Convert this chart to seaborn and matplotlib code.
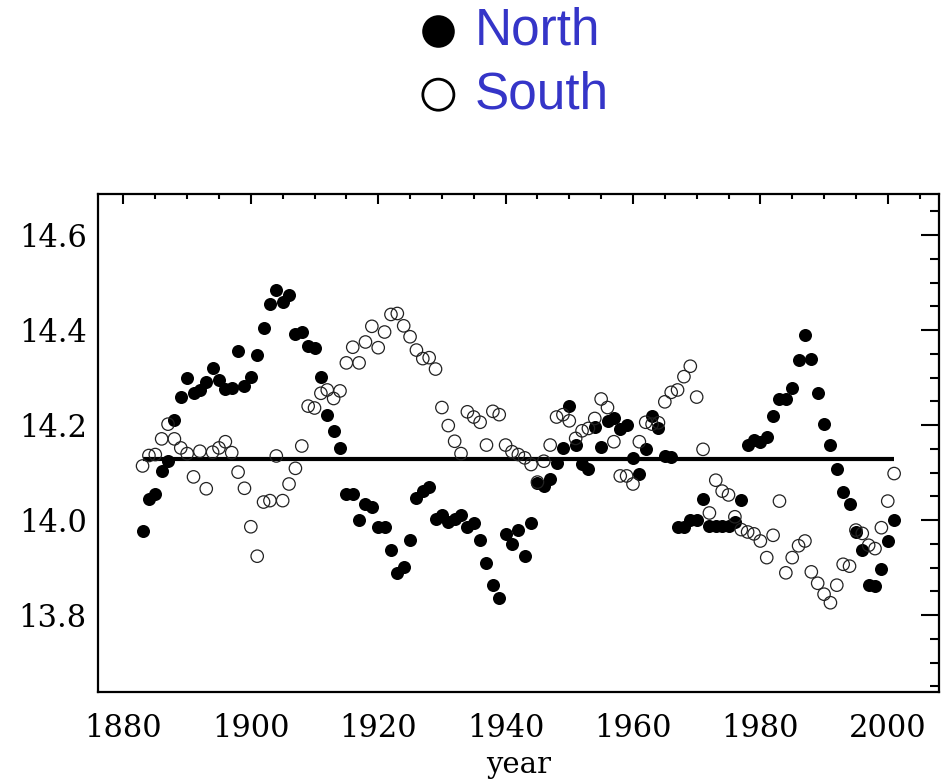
import numpy as np
import pandas as pd
import matplotlib
matplotlib.use("Agg")
import matplotlib.pyplot as plt
from matplotlib.ticker import MultipleLocator
import seaborn as sns

years = list(range(1883, 2002))

north = [
    13.977, 14.045, 14.056, 14.103, 14.124, 14.211, 14.260, 14.300, 14.268, 14.274,
    14.291, 14.321, 14.295, 14.275, 14.278, 14.357, 14.282, 14.302, 14.348, 14.405,
    14.455, 14.485, 14.460, 14.473, 14.392, 14.395, 14.366, 14.362, 14.302, 14.221,
    14.188, 14.151, 14.054, 14.054, 14.000, 14.033, 14.027, 13.986, 13.985, 13.938,
    13.888, 13.902, 13.959, 14.047, 14.061, 14.070, 14.002, 14.011, 13.995, 14.002,
    14.011, 13.986, 13.993, 13.959, 13.909, 13.863, 13.835, 13.971, 13.949, 13.980,
    13.924, 13.994, 14.079, 14.072, 14.086, 14.121, 14.152, 14.241, 14.158, 14.119,
    14.107, 14.196, 14.154, 14.209, 14.214, 14.191, 14.200, 14.130, 14.098, 14.149,
    14.219, 14.193, 14.135, 14.133, 13.986, 13.986, 14.001, 14.001, 14.044, 13.987,
    13.987, 13.987, 13.987, 13.996, 14.042, 14.158, 14.168, 14.164, 14.175, 14.219,
    14.256, 14.254, 14.279, 14.337, 14.389, 14.340, 14.267, 14.202, 14.158, 14.107,
    14.060, 14.034, 13.975, 13.937, 13.863, 13.861, 13.896, 13.956, 14.000,
]

south = [
    14.114, 14.136, 14.138, 14.171, 14.202, 14.171, 14.152, 14.140, 14.091, 14.145,
    14.066, 14.143, 14.152, 14.165, 14.142, 14.101, 14.067, 13.986, 13.924, 14.038,
    14.041, 14.135, 14.041, 14.076, 14.109, 14.156, 14.240, 14.236, 14.267, 14.274,
    14.256, 14.272, 14.331, 14.364, 14.331, 14.375, 14.408, 14.363, 14.396, 14.433,
    14.435, 14.409, 14.386, 14.358, 14.340, 14.342, 14.318, 14.237, 14.199, 14.166,
    14.140, 14.228, 14.217, 14.206, 14.158, 14.229, 14.222, 14.158, 14.144, 14.138,
    14.131, 14.117, 14.080, 14.124, 14.158, 14.217, 14.222, 14.209, 14.172, 14.188,
    14.193, 14.214, 14.255, 14.237, 14.165, 14.093, 14.093, 14.076, 14.165, 14.206,
    14.202, 14.205, 14.249, 14.269, 14.274, 14.302, 14.324, 14.259, 14.149, 14.015,
    14.084, 14.061, 14.053, 14.007, 13.980, 13.975, 13.971, 13.956, 13.921, 13.968,
    14.040, 13.889, 13.921, 13.946, 13.956, 13.891, 13.867, 13.844, 13.826, 13.863,
    13.907, 13.903, 13.979, 13.972, 13.947, 13.940, 13.984, 14.040, 14.098,
]

series_names = ["North", "South"]
mean_level = 14.128
x_ticks = [1880, 1900, 1920, 1940, 1960, 1980, 2000]
y_ticks = [13.8, 14.0, 14.2, 14.4, 14.6]

df = pd.DataFrame({"year": years, "North": north, "South": south})

sns.set_theme(style="white")
plt.rcParams["font.family"] = ["DejaVu Serif"]

fig = plt.figure(figsize=(9.42, 7.84), dpi=100)
ax = fig.add_axes([0.1040, 0.1173, 0.8925, 0.6349])

sns.scatterplot(data=df, x="year", y="North", ax=ax, color="black",
                s=88, linewidth=0, label=series_names[0], zorder=3)
sns.scatterplot(data=df, x="year", y="South", ax=ax, facecolor="none",
                edgecolor="#222222", s=80, linewidth=0.9,
                label=series_names[1], zorder=3)
ax.plot([years[0], years[-1]], [mean_level, mean_level], color="black",
        lw=3.0, zorder=2, solid_capstyle="butt")

ax.set_xlim(1876, 2008)
ax.set_ylim(13.638, 14.686)
ax.set_xticks(x_ticks)
ax.set_yticks(y_ticks)
ax.set_xticklabels([str(v) for v in x_ticks])
ax.set_yticklabels([f"{v:.1f}" for v in y_ticks])
ax.xaxis.set_minor_locator(MultipleLocator(5))
ax.yaxis.set_minor_locator(MultipleLocator(0.05))

ax.tick_params(axis="both", which="both", direction="in", top=True, right=True,
               color="black", width=1.5, labelsize=22, labelcolor="black")
ax.tick_params(axis="x", which="major", length=7.5, pad=15)
ax.tick_params(axis="x", which="minor", length=3.6)
ax.tick_params(axis="y", which="major", length=12.7, pad=8)
ax.tick_params(axis="y", which="minor", length=6.7)
for sp in ax.spines.values():
    sp.set_color("black")
    sp.set_linewidth(1.6)

ax.set_xlabel("year", fontsize=21, color="black", labelpad=5)
ax.set_ylabel("")

leg = ax.legend(loc="upper center", bbox_to_anchor=(0.542, 0.992),
                bbox_transform=fig.transFigure, frameon=False,
                prop={"family": "Liberation Sans", "size": 37},
                labelcolor="#3535C8", markerscale=2.5, handletextpad=0.2,
                labelspacing=0.29, handlelength=1.0, borderaxespad=0,
                borderpad=0)
handles = leg.legend_handles
handles[1].set_linewidth(2.0)
handles[1].set_edgecolor("black")

fig.savefig("out.png", dpi=100)
